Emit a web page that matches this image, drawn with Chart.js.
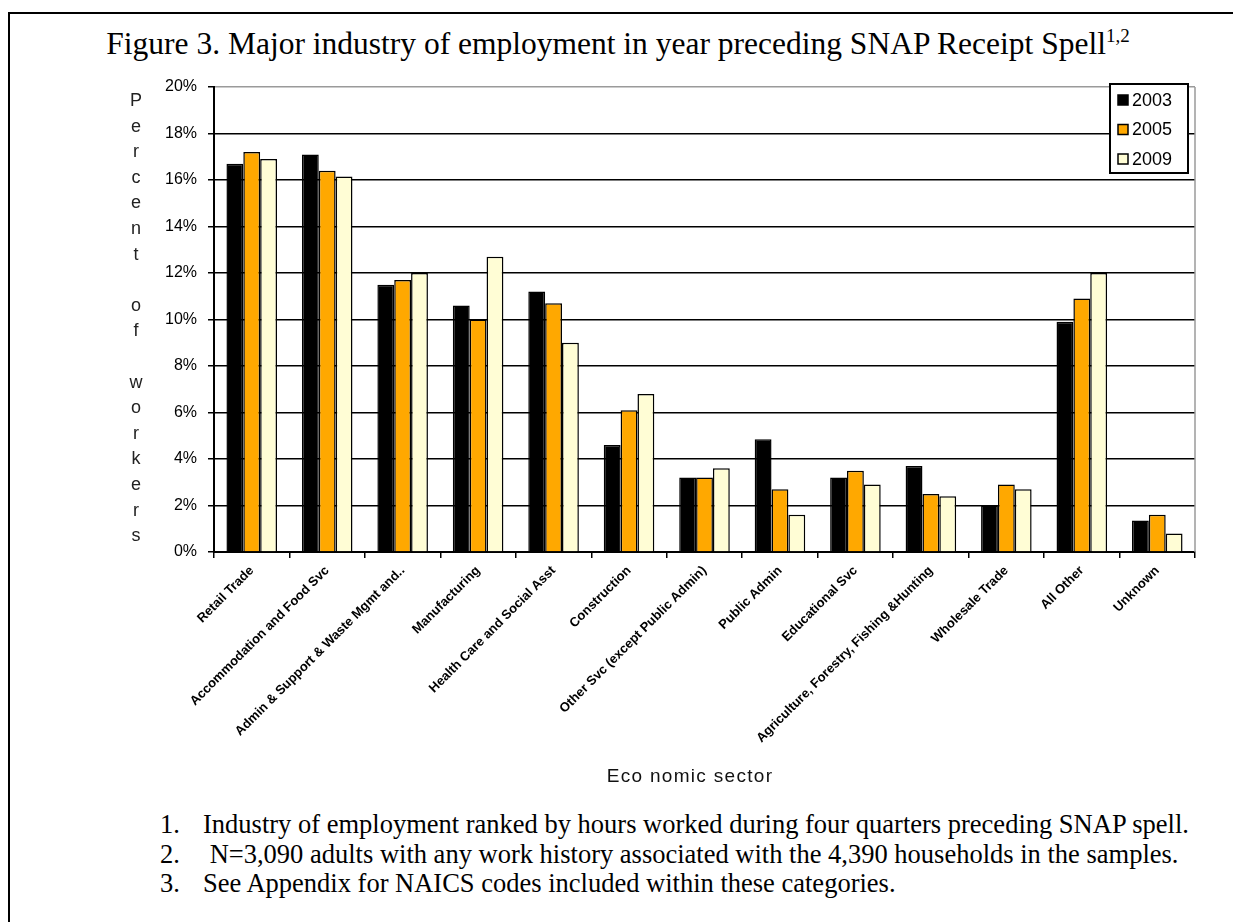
<!DOCTYPE html>
<html>
<head>
<meta charset="utf-8">
<script src="https://cdn.jsdelivr.net/npm/chart.js@4.4.1/dist/chart.umd.min.js"></script>
<style>
  body { margin: 0; background: #fff; width: 1233px; height: 922px; overflow: hidden; position: relative; }
  #frame { position: absolute; left: 8px; top: 12px; width: 1240px; height: 930px; border: 2px solid #000; }
  #title { position: absolute; left: 0; top: 26px; width: 1236px; text-align: center;
           font: 31.5px "Liberation Serif", "Times New Roman", serif; color: #000; white-space: nowrap; }
  #title sup { font-size: 19px; vertical-align: 12px; line-height: 0; }
  #chart { position: absolute; left: 0; top: 0; }
  #ytitle { position: absolute; left: 124px; top: 88px; width: 24px; text-align: center;
            font: 18px "Liberation Sans", Arial, sans-serif; line-height: 25.6px; color: #222; }
  #xtitle { position: absolute; left: 490px; width: 400px; top: 765px; text-align: center;
            font: 19px "Liberation Sans", Arial, sans-serif; color: #111; letter-spacing: 1.3px; }
  #notes { position: absolute; left: 160px; top: 810px; font: 26.5px "Liberation Serif", "Times New Roman", serif;
           line-height: 29.5px; color: #000; white-space: nowrap; }
  #notes span { display: inline-block; width: 43px; }
</style>
</head>
<body>
<div id="frame"></div>
<div id="title">Figure 3. Major industry of employment in year preceding SNAP Receipt Spell<sup>1,2</sup></div>
<canvas id="chart" width="1233" height="800"></canvas>
<div id="ytitle">P<br>e<br>r<br>c<br>e<br>n<br>t<br>&nbsp;<br>o<br>f<br>&nbsp;<br>w<br>o<br>r<br>k<br>e<br>r<br>s</div>
<div id="xtitle">Eco nomic sector</div>
<div id="notes">
  <div><span>1.</span>Industry of employment ranked by hours worked during four quarters preceding SNAP spell.</div>
  <div><span>2.</span>&nbsp;N=3,090 adults with any work history associated with the 4,390 households in the samples.</div>
  <div><span>3.</span>See Appendix for NAICS codes included within these categories.</div>
</div>
<script>
// values, percent of workers
const sectors = [
  "Retail Trade", "Accommodation and Food Svc", "Admin & Support & Waste Mgmt and..",
  "Manufacturing", "Health Care and Social Asst", "Construction",
  "Other Svc (except Public Admin)", "Public Admin", "Educational Svc",
  "Agriculture, Forestry, Fishing &Hunting", "Wholesale Trade", "All Other", "Unknown"
];
const years = ["2003", "2005", "2009"];
const v2003 = [16.7, 17.1, 11.5, 10.6, 11.2, 4.6, 3.2, 4.85, 3.2, 3.7, 2.0, 9.9, 1.35];
const v2005 = [17.2, 16.4, 11.7, 10.0, 10.7, 6.1, 3.2, 2.7, 3.5, 2.5, 2.9, 10.9, 1.6];
const v2009 = [16.9, 16.15, 12.0, 12.7, 9.0, 6.8, 3.6, 1.6, 2.9, 2.4, 2.7, 12.0, 0.8];
const yTicks = [0, 2, 4, 6, 8, 10, 12, 14, 16, 18, 20];

const colors = ["#000000", "#FFA800", "#FFFDD5"];
const series = [v2003, v2005, v2009];

// boxed legend in the top-right corner of the plot, plus the grey right edge of the plot frame
const frameAndLegend = {
  id: "frameAndLegend",
  afterDraw(chart) {
    const { ctx, chartArea: a } = chart;
    ctx.save();
    ctx.strokeStyle = "#9a9a9a"; ctx.lineWidth = 1.5;
    ctx.beginPath(); ctx.moveTo(a.right, a.top); ctx.lineTo(a.right, a.bottom); ctx.stroke();

    const x = a.right - 85, y = a.top - 3, w = 78, h = 89;
    ctx.fillStyle = "#fff"; ctx.fillRect(x, y, w, h);
    ctx.strokeStyle = "#000"; ctx.lineWidth = 2; ctx.strokeRect(x, y, w, h);
    ctx.font = '18px "Liberation Sans", Arial, sans-serif';
    ctx.textBaseline = "middle";
    chart.data.datasets.forEach((ds, i) => {
      const cy = y + 16 + i * 29.5;
      ctx.fillStyle = ds.backgroundColor; ctx.fillRect(x + 8, cy - 5, 10, 10);
      ctx.lineWidth = 1.5; ctx.strokeStyle = "#000"; ctx.strokeRect(x + 8, cy - 5, 10, 10);
      ctx.fillStyle = "#000"; ctx.fillText(ds.label, x + 22, cy + 1);
    });
    ctx.restore();
  }
};

new Chart(document.getElementById("chart"), {
  type: "bar",
  data: {
    labels: sectors,
    datasets: years.map((yr, i) => ({
      label: yr, data: series[i], backgroundColor: colors[i],
      borderColor: "#000", borderWidth: 1.5,
      categoryPercentage: 0.67, barPercentage: 1.0,
    })),
  },
  options: {
    responsive: false, animation: false,
    layout: { padding: { top: 87, right: 38, left: 0, bottom: 0 } },
    plugins: { legend: { display: false }, tooltip: { enabled: false } },
    scales: {
      x: {
        afterFit: (s) => { s.height = 248; },
        grid: { offset: true, drawOnChartArea: false, color: "#000", tickLength: 6, lineWidth: 1.5 },
        border: { color: "#000", width: 2 },
        ticks: { color: "#000", minRotation: 45, maxRotation: 45, autoSkip: false, padding: 5,
                 font: { family: '"Liberation Sans", Arial, sans-serif', size: 13, weight: "bold" } },
      },
      y: {
        min: 0, max: 20,
        afterFit: (s) => { s.width = 214; },
        afterBuildTicks: (s) => { s.ticks = yTicks.map(v => ({ value: v })); },
        grid: { color: (c) => c.tick && c.tick.value === 20 ? "#9a9a9a" : "#000", lineWidth: 1.5, tickLength: 6,
                tickColor: "#000" },
        border: { color: "#000", width: 2 },
        ticks: { color: "#000", padding: 11, callback: (v) => v + "%",
                 font: { family: '"Liberation Sans", Arial, sans-serif', size: 16 } },
      },
    },
  },
  plugins: [frameAndLegend],
});
</script>
</body>
</html>
